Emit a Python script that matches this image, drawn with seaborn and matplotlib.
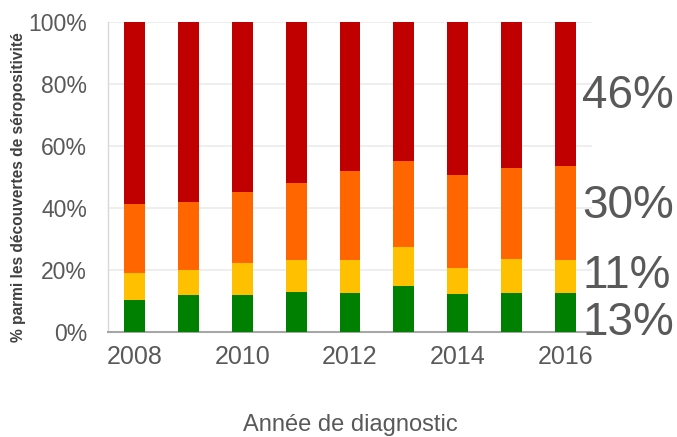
import numpy as np
import pandas as pd
import matplotlib
matplotlib.use("Agg")
import matplotlib.pyplot as plt
import seaborn as sns

years = [2008, 2009, 2010, 2011, 2012, 2013, 2014, 2015, 2016]
green = [10.4, 11.9, 11.9, 13.0, 12.6, 14.7, 12.3, 12.6, 12.6]
yellow = [8.5, 8.1, 10.5, 10.2, 10.5, 12.6, 8.2, 10.9, 10.6]
orange = [22.4, 21.9, 22.9, 24.9, 28.7, 28.0, 30.0, 29.5, 30.3]
red = [58.7, 58.1, 54.7, 51.9, 48.2, 44.7, 49.5, 47.0, 46.5]
right_labels = ["46%", "30%", "11%", "13%"]
right_label_y = [76, 40.6, 18, 3]
ytick_labels = ["0%", "20%", "40%", "60%", "80%", "100%"]

sns.set_theme(style="white")
plt.rcParams['font.family'] = ['Liberation Sans', 'DejaVu Sans']

df = pd.DataFrame({"year": [str(y) for y in years], "green": green,
                   "yellow": yellow, "orange": orange, "red": red})
df["c_y"] = df["green"] + df["yellow"]
df["c_o"] = df["c_y"] + df["orange"]
df["c_r"] = df["c_o"] + df["red"]

fig = plt.figure(figsize=(6.77, 4.37), dpi=100)
ax = fig.add_axes([108/677, 1-332/437, (592-108)/677, (332-22)/437])

layers = [("c_r", "#C00000"), ("c_o", "#FF6600"), ("c_y", "#FFC000"), ("green", "#008000")]
for col, colr in layers:
    sns.barplot(data=df, x="year", y=col, color=colr, width=0.39, ax=ax,
                saturation=1, edgecolor="none", linewidth=0, zorder=3)

ax.set_ylim(0, 100)
ax.set_xlim(-0.5, len(years) - 0.5)
ax.set_yticks([0, 20, 40, 60, 80, 100])
ax.set_yticklabels(ytick_labels, fontsize=16.5, color="#595959")
ax.yaxis.grid(True, color="#EBEBEB", linewidth=1.2, zorder=0)
ax.set_axisbelow(True)

idx = list(range(len(years)))
ax.set_xticks(idx[::2])
ax.set_xticklabels([str(y) for y in years[::2]], fontsize=18, color="#595959")
ax.set_xticks(np.arange(-0.5, len(years), 1.0), minor=True)
ax.tick_params(axis="x", which="major", length=0, pad=9)
ax.tick_params(axis="x", which="minor", length=8, width=1.2, color="#A6A6A6", direction="out")
ax.tick_params(axis="y", length=0, pad=15)

for s in ["top", "right"]:
    ax.spines[s].set_visible(False)
ax.spines["left"].set_color("#D9D9D9")
ax.spines["left"].set_linewidth(1.0)
ax.spines["bottom"].set_color("#A6A6A6")
ax.spines["bottom"].set_linewidth(1.5)

ax.set_xlabel("Année de diagnostic", fontsize=17, color="#595959")
ax.xaxis.set_label_coords(0.5, -(425 - 332) / 310, transform=ax.transAxes)
ax.xaxis.label.set_va("center")
ax.set_ylabel("% parmi les découvertes de séropositivité", fontsize=11.2,
              fontweight="bold", color="#404040")
ax.yaxis.set_label_coords(-(108 - 19) / 484, (332 - 187) / 310)
ax.yaxis.label.set_va("center")

for lab, yv in zip(right_labels, right_label_y):
    ax.text((582 - 108) / 484, yv, lab, transform=ax.get_yaxis_transform(), fontsize=33,
            color="#595959", ha="left", va="center", clip_on=False)

fig.savefig("out.png", dpi=100)
